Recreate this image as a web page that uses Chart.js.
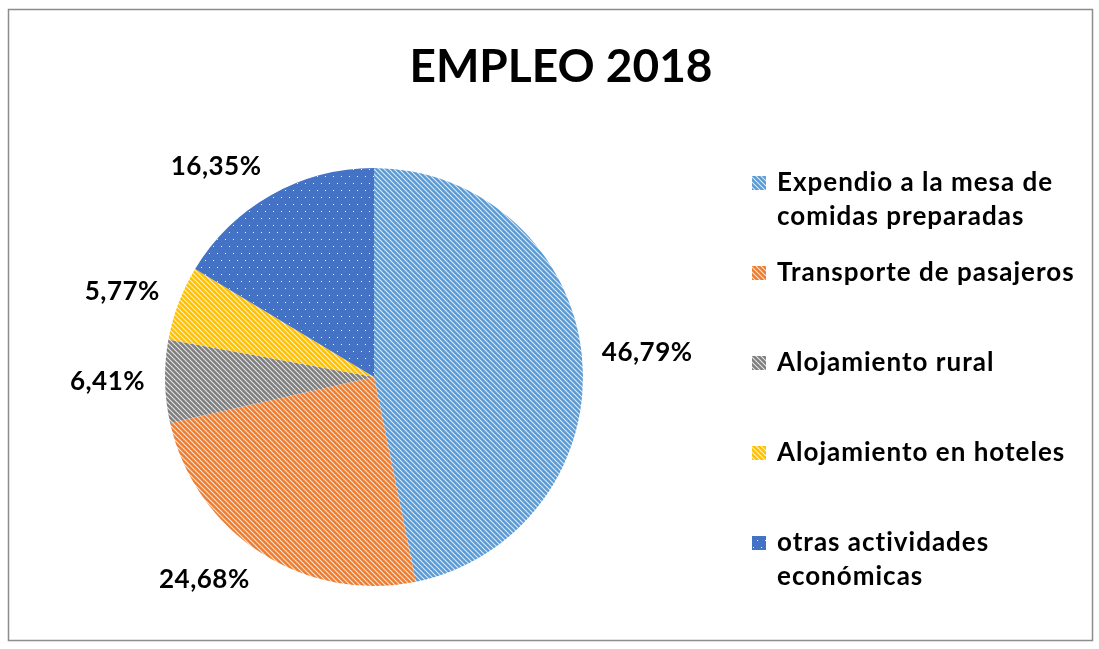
<!DOCTYPE html>
<html>
<head>
<meta charset="utf-8">
<script src="https://cdn.jsdelivr.net/npm/chart.js@4.4.1/dist/chart.umd.min.js"></script>
<style>
  body { margin: 0; background: #fff; }
  canvas { display: block; }
</style>
</head>
<body>
<canvas id="empleoChart" width="1099" height="649"></canvas>
<script>
// datos del grafico
const chartTitle = 'EMPLEO 2018';
const categories = [
  'Expendio a la mesa de comidas preparadas',
  'Transporte de pasajeros',
  'Alojamiento rural',
  'Alojamiento en hoteles',
  'otras actividades económicas'
];
const values = [46.79, 24.68, 6.41, 5.77, 16.35];
const baseColors = ['#5B9BD5', '#ED7D31', '#7F7F7F', '#FFC000', '#4472C4'];

const FONT = 'Lato, "Open Sans", sans-serif';

// tramas tipo Excel
function stripes(color) {
  const n = 5;
  const c = document.createElement('canvas');
  c.width = n; c.height = n;
  const g = c.getContext('2d');
  g.fillStyle = color;
  g.fillRect(0, 0, n, n);
  g.strokeStyle = 'rgba(255,255,255,0.8)';
  g.lineWidth = 1.1;
  g.beginPath();
  g.moveTo(-1, -1); g.lineTo(n + 1, n + 1);
  g.moveTo(-1, n - 1); g.lineTo(1, n + 1);
  g.moveTo(n - 1, -1); g.lineTo(n + 1, 1);
  g.stroke();
  return g.createPattern(c, 'repeat');
}
function dots(color) {
  const c = document.createElement('canvas');
  c.width = 8; c.height = 14;
  const g = c.getContext('2d');
  g.fillStyle = color;
  g.fillRect(0, 0, 8, 14);
  g.fillStyle = 'rgba(255,255,255,0.9)';
  g.fillRect(1, 1, 1, 1);
  g.fillRect(5, 8, 1, 1);
  return g.createPattern(c, 'repeat');
}

const fills = baseColors.map((col, i) => i === 4 ? dots(col) : stripes(col));

function fmt(v) {
  return v.toFixed(2).replace('.', ',') + '%';
}

function wrap(ctx, text, maxW) {
  const words = text.split(' ');
  const lines = [];
  let line = '';
  words.forEach(w => {
    const test = line ? line + ' ' + w : w;
    if (line && ctx.measureText(test).width > maxW) {
      lines.push(line);
      line = w;
    } else {
      line = test;
    }
  });
  if (line) lines.push(line);
  return lines;
}

const decoPlugin = {
  id: 'deco',
  afterDraw(chart) {
    const ctx = chart.ctx;
    ctx.save();

    // marco
    ctx.strokeStyle = '#8c8c8c';
    ctx.lineWidth = 1.5;
    ctx.strokeRect(8.5, 9.5, 1084, 631);

    // titulo
    ctx.fillStyle = '#000';
    ctx.font = 'bold 46px ' + FONT;
    ctx.textAlign = 'center';
    ctx.textBaseline = 'alphabetic';
    ctx.fillText(chartTitle, 561, 82);

    // etiquetas de datos
    ctx.font = 'bold 26px ' + FONT;
    ctx.letterSpacing = '0.5px';
    ctx.textBaseline = 'middle';
    const meta = chart.getDatasetMeta(0);
    meta.data.forEach((arc, i) => {
      const p = arc.getProps(['x', 'y', 'startAngle', 'endAngle', 'outerRadius'], true);
      const mid = (p.startAngle + p.endAngle) / 2;
      const cos = Math.cos(mid), sin = Math.sin(mid);
      const txt = fmt(values[i]);
      const w = ctx.measureText(txt).width;
      const r = p.outerRadius + 20;
      const cx = p.x + r * cos + (w / 2) * Math.sign(cos);
      const cy = p.y + r * sin + 12 * sin;
      ctx.textAlign = 'center';
      ctx.fillText(txt, cx, cy);
    });

    // leyenda
    ctx.font = 'bold 26px ' + FONT;
    ctx.letterSpacing = '1px';
    ctx.textAlign = 'left';
    const lx = 752, tx = 777, y0 = 183, slot = 90, lh = 34;
    categories.forEach((cat, i) => {
      const y = y0 + i * slot;
      ctx.fillStyle = fills[i];
      ctx.fillRect(lx, y - 7, 14, 14);
      ctx.fillStyle = '#000';
      wrap(ctx, cat, 308).forEach((ln, j) => {
        ctx.fillText(ln, tx, y + j * lh);
      });
    });

    ctx.restore();
  }
};

const ctx = document.getElementById('empleoChart').getContext('2d');
const empleoChart = new Chart(ctx, {
  type: 'pie',
  data: {
    labels: categories,
    datasets: [{
      data: values,
      backgroundColor: fills,
      borderWidth: 0
    }]
  },
  options: {
    responsive: false,
    animation: false,
    layout: {
      padding: { left: 165, top: 168, right: 516, bottom: 63 }
    },
    plugins: {
      legend: { display: false },
      title: { display: false },
      tooltip: { enabled: false }
    }
  },
  plugins: [decoPlugin]
});
</script>
</body>
</html>
